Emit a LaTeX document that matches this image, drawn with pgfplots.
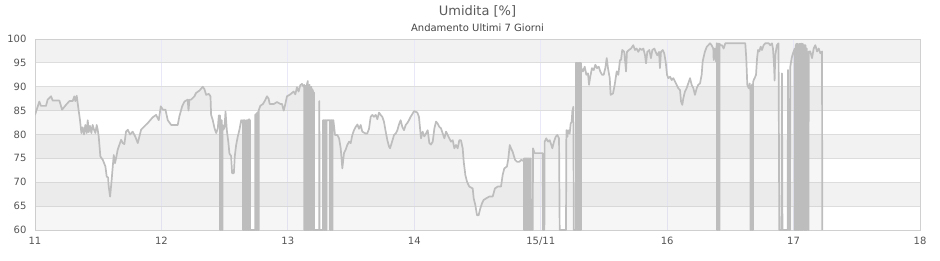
\documentclass[border=0pt]{standalone}
\usepackage{fontspec}
\setmainfont{DejaVu Sans}
\usepackage{pgfplots}
\pgfplotsset{compat=1.18}
\usepackage{pgfplotstable}
\definecolor{linegray}{RGB}{189,189,189}
\definecolor{bandgray}{RGB}{242,242,242}
\definecolor{gridgray}{RGB}{221,221,221}
\definecolor{vgrid}{RGB}{232,232,248}
\definecolor{framegray}{RGB}{208,208,208}
\definecolor{textgray}{RGB}{85,85,85}
\definecolor{titlegray}{RGB}{90,90,90}

\pgfplotstableread[row sep=\\]{
x y\\
11.000 84.1\\ 11.034 86.9\\ 11.047 86.0\\ 11.087 86.0\\ 11.100 87.3\\ 11.127 88.0\\ 11.140 87.1\\ 11.193 87.1\\
11.214 85.2\\ 11.245 86.2\\ 11.272 87.0\\ 11.298 87.0\\ 11.311 88.0\\ 11.319 87.0\\ 11.330 88.1\\ 11.343 85.5\\
11.356 83.0\\ 11.367 80.3\\ 11.377 81.5\\ 11.388 80.0\\ 11.398 82.0\\ 11.409 80.3\\ 11.417 83.0\\ 11.425 80.5\\
11.435 81.8\\ 11.446 80.3\\ 11.456 82.0\\ 11.467 81.0\\ 11.478 80.3\\ 11.488 82.0\\ 11.496 81.0\\ 11.504 79.6\\
11.517 75.4\\ 11.536 74.7\\ 11.557 73.3\\ 11.567 71.2\\ 11.578 71.0\\ 11.583 69.1\\ 11.594 67.0\\ 11.604 69.8\\
11.615 73.3\\ 11.623 75.7\\ 11.633 74.0\\ 11.641 75.0\\ 11.654 76.8\\ 11.681 78.9\\ 11.694 78.2\\ 11.707 78.0\\
11.720 80.6\\ 11.734 81.0\\ 11.752 80.0\\ 11.773 80.6\\ 11.794 79.5\\ 11.813 78.2\\ 11.839 81.0\\ 11.865 81.7\\
11.892 82.4\\ 11.931 83.6\\ 11.958 84.1\\ 11.979 83.0\\ 11.995 85.9\\ 12.011 85.2\\ 12.032 85.2\\ 12.050 83.0\\
12.077 82.0\\ 12.129 82.0\\ 12.142 83.8\\ 12.164 85.9\\ 12.182 86.9\\ 12.208 87.3\\ 12.214 85.0\\ 12.222 87.3\\
12.235 87.3\\ 12.261 88.0\\ 12.274 88.7\\ 12.301 89.2\\ 12.327 90.0\\ 12.340 89.5\\ 12.354 88.3\\ 12.375 88.5\\
12.388 88.0\\ 12.393 84.1\\ 12.406 83.0\\ 12.420 81.3\\ 12.433 80.3\\ 12.446 81.3\\ 12.454 84.0\\
12.463 84\\ 12.463 60\\ 12.470 60\\ 12.470 83\\ 12.477 83\\ 12.477 60\\ 12.484 60\\ 12.484 82\\ 12.490 81\\
12.499 81.5\\ 12.507 84.8\\ 12.517 81.0\\ 12.530 78.2\\ 12.538 76.0\\ 12.551 75.5\\ 12.559 71.9\\ 12.573 71.9\\
12.580 75.4\\ 12.591 77.8\\ 12.604 79.6\\ 12.617 81.0\\ 12.631 83.0\\ 12.640 82.5\\
12.644 83\\ 12.644 60\\ 12.651 60\\ 12.651 83\\ 12.658 83\\ 12.658 60\\ 12.665 60\\ 12.665 82.5\\ 12.672 83\\ 12.672 60\\
12.679 60\\ 12.679 83\\ 12.686 83\\ 12.686 60\\ 12.693 60\\ 12.693 83.2\\ 12.700 83\\ 12.700 60\\ 12.741 60\\
12.742 60\\ 12.742 84.1\\ 12.749 84.3\\ 12.749 60\\ 12.756 60\\ 12.756 84.5\\ 12.763 84.7\\ 12.763 60\\ 12.769 60\\ 12.769 85\\
12.782 86.0\\ 12.803 86.4\\ 12.817 87.0\\ 12.835 88.0\\ 12.848 87.5\\ 12.856 86.4\\ 12.890 86.4\\ 12.914 86.8\\
12.940 86.4\\ 12.954 86.4\\ 12.967 85.0\\ 12.980 86.4\\ 12.993 88.0\\ 13.019 88.4\\ 13.046 89.0\\ 13.059 88.4\\
13.072 89.9\\ 13.085 89.0\\ 13.098 90.3\\ 13.112 90.6\\ 13.125 90.0\\
13.130 90.4\\ 13.130 60\\ 13.137 60\\ 13.137 90.2\\ 13.144 90.0\\ 13.144 60\\ 13.151 60\\ 13.151 90.5\\ 13.158 91.2\\
13.158 60\\ 13.165 60\\ 13.165 90.2\\ 13.172 90.4\\ 13.172 60\\ 13.179 60\\ 13.179 89.8\\ 13.186 90\\ 13.186 60\\
13.193 60\\ 13.193 89.5\\ 13.200 89\\ 13.200 60\\ 13.206 60\\ 13.206 88.8\\ 13.207 60\\ 13.248 60\\ 13.249 87\\ 13.251 60\\ 13.276 60\\
13.278 60\\ 13.278 83\\ 13.285 83\\ 13.285 60\\ 13.292 60\\ 13.292 83\\ 13.299 83\\ 13.299 60\\ 13.306 60\\ 13.306 83\\ 13.330 83\\
13.333 83\\ 13.333 60\\ 13.340 60\\ 13.340 83\\ 13.347 83\\ 13.347 60\\ 13.354 60\\ 13.354 83\\ 13.360 83\\
13.373 79.9\\ 13.391 79.9\\ 13.405 79.2\\ 13.418 77.1\\ 13.431 72.9\\ 13.444 76.1\\ 13.457 76.8\\ 13.470 77.8\\
13.484 78.5\\ 13.497 78.2\\ 13.510 79.9\\ 13.523 80.9\\ 13.537 81.6\\ 13.550 82.1\\ 13.563 81.2\\ 13.576 82.0\\
13.589 80.6\\ 13.615 80.2\\ 13.628 80.2\\ 13.642 81.2\\ 13.655 83.7\\ 13.668 84.1\\ 13.681 83.7\\ 13.695 84.1\\
13.708 83.2\\ 13.721 84.6\\ 13.734 84.1\\ 13.747 83.7\\ 13.760 82.7\\ 13.774 80.6\\ 13.787 78.8\\ 13.800 77.5\\
13.808 77.1\\ 13.821 78.2\\ 13.840 79.9\\ 13.853 80.2\\ 13.866 80.9\\ 13.879 82.1\\ 13.892 83.0\\ 13.905 81.6\\
13.919 80.9\\ 13.932 82.0\\ 13.945 82.4\\ 13.958 83.0\\ 13.971 83.7\\ 13.985 84.3\\ 13.998 84.9\\ 14.024 84.6\\
14.037 83.7\\ 14.053 79.2\\ 14.066 80.6\\ 14.079 79.6\\ 14.093 80.2\\ 14.106 80.9\\ 14.119 78.2\\ 14.132 77.9\\
14.146 78.5\\ 14.159 81.3\\ 14.172 82.7\\ 14.185 82.3\\ 14.198 81.6\\ 14.211 81.3\\ 14.225 80.2\\ 14.238 79.2\\
14.251 80.6\\ 14.264 79.9\\ 14.277 79.2\\ 14.290 78.5\\ 14.304 78.8\\ 14.317 77.1\\ 14.330 77.8\\ 14.343 77.1\\
14.356 78.8\\ 14.369 78.8\\ 14.383 77.1\\ 14.391 74.3\\ 14.404 71.5\\ 14.417 70.1\\ 14.435 69.1\\ 14.462 68.7\\
14.470 66.6\\ 14.483 65.2\\ 14.496 63.1\\ 14.509 63.1\\ 14.522 64.5\\ 14.536 65.6\\ 14.549 66.3\\ 14.567 66.6\\
14.593 67.0\\ 14.620 67.0\\ 14.638 68.7\\ 14.660 69.1\\ 14.686 69.1\\ 14.699 71.5\\ 14.712 72.9\\ 14.733 73.3\\
14.744 75.0\\ 14.755 77.8\\ 14.765 77.1\\ 14.778 76.4\\ 14.797 74.7\\ 14.812 74.3\\ 14.831 74.3\\ 14.847 74.7\\
14.860 74.5\\ 14.866 74.5\\
14.868 75\\ 14.868 60\\ 14.875 60\\ 14.875 75\\ 14.882 75\\ 14.882 60\\ 14.889 60\\ 14.889 75\\ 14.896 75\\ 14.896 60\\
14.903 60\\ 14.903 75\\ 14.910 75\\ 14.910 60\\ 14.917 60\\ 14.917 75\\ 14.922 75\\ 14.922 60\\ 14.937 60\\
14.939 77.1\\ 14.952 76.1\\ 14.980 76.1\\ 15.016 76.1\\ 15.018 60\\ 15.029 60\\ 15.031 78.5\\ 15.044 79.2\\
15.058 78.5\\ 15.071 78.8\\ 15.084 77.8\\ 15.092 77.1\\ 15.105 78.5\\ 15.118 79.5\\ 15.131 79.9\\ 15.145 79.2\\
15.150 60\\ 15.200 60\\ 15.203 80.9\\ 15.211 79.5\\ 15.216 80.9\\ 15.229 80.2\\ 15.237 82.3\\ 15.245 82.7\\
15.250 84.8\\ 15.258 85.8\\ 15.262 60\\ 15.276 60\\
15.278 60\\ 15.278 95\\ 15.285 95\\ 15.285 60\\ 15.292 60\\ 15.292 95\\ 15.299 95\\ 15.299 60\\ 15.306 60\\ 15.306 95\\
15.313 95\\ 15.313 60\\ 15.318 60\\ 15.318 95\\
15.321 93.9\\ 15.334 93.2\\ 15.348 94.2\\ 15.361 92.5\\ 15.374 92.8\\ 15.382 90.4\\ 15.392 92.1\\ 15.405 93.9\\
15.419 93.5\\ 15.432 94.6\\ 15.445 93.9\\ 15.459 94.2\\ 15.471 93.2\\ 15.485 92.5\\ 15.498 92.5\\ 15.511 93.9\\
15.522 96.0\\ 15.532 93.9\\ 15.546 91.8\\ 15.553 88.3\\ 15.572 88.6\\ 15.585 90.4\\ 15.601 93.2\\ 15.614 92.5\\
15.627 95.6\\ 15.635 95.6\\ 15.645 97.7\\ 15.661 97.3\\ 15.675 93.2\\ 15.682 97.3\\ 15.698 97.7\\ 15.714 98.0\\
15.732 98.7\\ 15.746 97.7\\ 15.759 98.0\\ 15.772 97.3\\ 15.785 98.0\\ 15.799 97.7\\ 15.812 98.0\\ 15.825 96.6\\
15.833 94.9\\ 15.843 97.3\\ 15.859 97.7\\ 15.872 96.0\\ 15.883 97.7\\ 15.899 98.0\\ 15.909 97.3\\ 15.922 96.6\\
15.936 97.3\\ 15.943 93.9\\ 15.951 97.3\\ 15.965 97.7\\ 15.977 97.0\\ 15.988 95.3\\ 15.999 92.5\\ 16.009 91.8\\
16.023 92.1\\ 16.036 91.4\\ 16.049 91.8\\ 16.062 91.1\\ 16.075 90.4\\ 16.088 89.7\\ 16.102 89.3\\ 16.110 86.9\\
16.120 86.2\\ 16.128 87.6\\ 16.141 89.0\\ 16.154 89.7\\ 16.167 90.7\\ 16.181 91.8\\ 16.194 90.4\\ 16.207 89.7\\
16.220 88.3\\ 16.234 89.7\\ 16.246 90.4\\ 16.260 90.7\\ 16.273 92.5\\ 16.281 95.3\\ 16.298 97.3\\ 16.314 98.4\\
16.326 98.7\\ 16.339 99.1\\ 16.352 98.7\\ 16.365 98.0\\ 16.368 95.6\\ 16.376 98.0\\ 16.387 95.3\\ 16.392 99.1\\
16.394 99\\ 16.394 60\\ 16.401 60\\ 16.401 99\\ 16.408 99\\ 16.408 60\\ 16.415 60\\ 16.415 99\\ 16.421 98.7\\
16.434 98.7\\ 16.447 98.0\\ 16.460 99.1\\ 16.618 99.1\\ 16.626 95.9\\ 16.634 90.4\\ 16.645 89.7\\ 16.653 90.7\\ 16.657 89.3\\
16.659 89.5\\ 16.659 60\\ 16.666 60\\ 16.666 90\\ 16.673 90.5\\ 16.673 60\\ 16.680 60\\ 16.680 91\\ 16.686 91.5\\
16.692 91.8\\ 16.703 92.5\\ 16.711 95.9\\ 16.719 97.7\\ 16.729 97.4\\ 16.740 98.4\\ 16.750 97.7\\ 16.763 98.7\\
16.776 99.1\\ 16.803 99.1\\ 16.816 98.7\\ 16.829 99.1\\ 16.837 98.0\\ 16.845 94.9\\ 16.850 91.3\\ 16.855 96.6\\
16.868 98.7\\ 16.881 99.1\\ 16.887 60\\ 16.905 60\\ 16.908 92.8\\ 16.912 60\\ 16.953 60\\ 16.956 93.5\\ 16.962 60\\
16.972 60\\ 16.974 94.2\\ 16.985 96.0\\ 16.995 97.0\\ 17.005 97.7\\
17.009 98\\ 17.009 60\\ 17.016 60\\ 17.016 98.5\\ 17.023 99\\ 17.023 60\\ 17.030 60\\ 17.030 99\\ 17.037 98.5\\ 17.037 60\\
17.044 60\\ 17.044 99\\ 17.049 98.5\\ 17.053 99\\ 17.053 60\\ 17.060 60\\ 17.060 99\\ 17.066 99\\ 17.066 60\\ 17.072 60\\ 17.072 99\\
17.077 98.5\\ 17.082 98.7\\ 17.082 60\\ 17.089 60\\ 17.089 98.7\\ 17.095 98.7\\ 17.095 60\\ 17.101 60\\ 17.101 98\\ 17.104 98\\
17.106 60\\ 17.108 97\\ 17.116 97\\ 17.118 60\\
17.120 97.4\\ 17.132 97.4\\ 17.146 96.0\\ 17.159 98.0\\ 17.172 98.7\\ 17.186 97.4\\ 17.199 98.0\\ 17.212 97.0\\
17.225 97.4\\ 17.227 60\\
}\humid

\begin{document}
\begin{tikzpicture}
\path (0,0) rectangle (940pt,260pt);
\begin{axis}[
  set layers,
  at={(35pt,30pt)}, anchor=south west,
  scale only axis, width=885pt, height=191pt,
  xmin=11, xmax=18, ymin=60, ymax=100,
  xtick={11,12,13,14,15,16,17,18},
  xticklabels={11,12,13,14,15/11,16,17,18},
  ytick={60,65,70,75,80,85,90,95,100},
  axis line style={framegray, line width=0.8pt},
  major tick length=0pt,
  xmajorgrids, ymajorgrids,
  y grid style={gridgray, line width=0.8pt},
  x grid style={vgrid, line width=0.8pt},
  /pgf/number format/assume math mode=true,
  ticklabel style={font=\fontsize{10}{12}\selectfont, text=textgray},
  yticklabel style={xshift=-5pt},
  xticklabel style={yshift=-4pt},
]
\begin{pgfonlayer}{axis background}
\fill[bandgray] (axis cs:11,65) rectangle (axis cs:18,70);
\fill[bandgray] (axis cs:11,75) rectangle (axis cs:18,80);
\fill[bandgray] (axis cs:11,85) rectangle (axis cs:18,90);
\fill[bandgray] (axis cs:11,95) rectangle (axis cs:18,100);
\end{pgfonlayer}
\addplot[draw=none, fill=linegray, fill opacity=0.13] table[x=x,y=y]{\humid} \closedcycle;
\addplot[linegray, line width=1.7pt, line join=round] table[x=x,y=y]{\humid};
\end{axis}
\node[text=titlegray, font=\fontsize{13}{15}\selectfont] at (477.5pt,249pt) {Umidita [\%]};
\node[text=textgray!80!black, font=\fontsize{10}{12}\selectfont] at (477.5pt,232pt) {Andamento Ultimi 7 Giorni};
\end{tikzpicture}
\end{document}
